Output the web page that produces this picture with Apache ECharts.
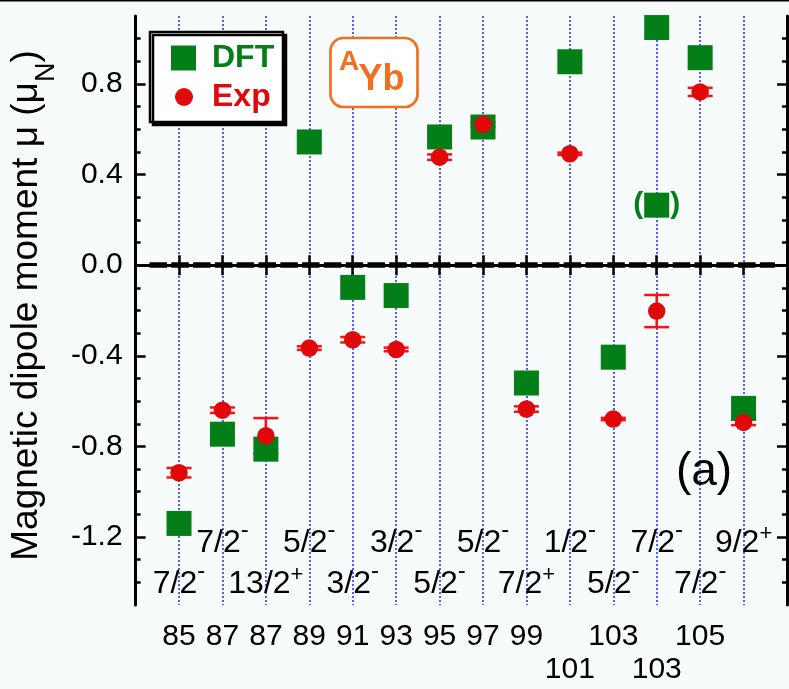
<!DOCTYPE html>
<html><head><meta charset="utf-8">
<script src="https://cdn.jsdelivr.net/npm/echarts@6.0.0/dist/echarts.min.js"></script>
<style>html,body{margin:0;padding:0;background:#f7fbfc}#c{width:789px;height:689px}</style>
</head><body><div id="c"></div>
<script>
// ---- data ----
const positions = [1, 2, 3, 4, 5, 6, 7, 8, 9, 10, 11, 12, 13, 14];
const massNumbers = ['85', '87', '87', '89', '91', '93', '95', '97', '99', '101', '103', '103', '105', '107'];
const massLowerRow = [false, false, false, false, false, false, false, false, false, true, false, true, false, true];
const spins = ['7/2-', '7/2-', '13/2+', '5/2-', '3/2-', '3/2-', '5/2-', '5/2-', '7/2+', '1/2-', '5/2-', '7/2-', '7/2-', '9/2+'];
const dftValues = [-1.14, -0.746, -0.812, 0.544, -0.098, -0.134, 0.566, 0.61, -0.52, 0.898, -0.406, 1.049, 0.916, -0.632];
const dftTentativePos = [12];
const dftTentativeValues = [0.265];
const expValues = [-0.916, -0.64, -0.753, -0.366, -0.329, -0.372, 0.477, 0.622, -0.635, 0.492, -0.679, -0.2025, 0.765, -0.694];
const expErrors = [0.021, 0.012, 0.078, 0.008, 0.012, 0.008, 0.012, 0.01, 0.012, 0.005, 0.005, 0.071, 0.018, 0.012];
const yMajorTicks = [-1.2, -0.8, -0.4, 0, 0.4, 0.8];
const yMinorTicks = [-1.4, -1.3, -1.1, -1.0, -0.9, -0.7, -0.6, -0.5, -0.3, -0.2, -0.1, 0.1, 0.2, 0.3, 0.5, 0.6, 0.7, 0.9, 1.0];

// ---- styling ----
const FONT = 'Liberation Sans, Arial, Helvetica, sans-serif';
const GREEN = '#047f18';
const RED = '#e00808';
const ERR = '#ff1010';
const ORANGE = '#f07020';
const SPIN_UPPER_Y = -1.228, SPIN_LOWER_Y = -1.407;
const ZERO_LINE_X = [0.32, 14.72];

const dftData = positions.map((p, i) => [p, dftValues[i]]);
const dftTentData = dftTentativePos.map((p, i) => [p, dftTentativeValues[i]]);
const expData = positions.map((p, i) => [p, expValues[i]]);
const errData = positions.map((p, i) => [p, expValues[i] - expErrors[i], expValues[i] + expErrors[i]]);
const spinData = positions.map((p, i) => [p, (i % 2 === 0) ? SPIN_LOWER_Y : SPIN_UPPER_Y, spins[i]]);

const axisLineStyle = {color: '#000', width: 3};
const chart = echarts.init(document.getElementById('c'), null, {renderer: 'canvas'});

chart.setOption({
  backgroundColor: '#f7fbfc',
  animation: false,
  textStyle: {fontFamily: FONT},
  grid: {left: 133, right: 2, top: 16, bottom: 84},
  xAxis: [{
    type: 'value', position: 'bottom', min: 0, max: 15, interval: 1,
    axisLine: {show: true, lineStyle: axisLineStyle},
    axisTick: {show: true, inside: true, length: 10, lineStyle: {width: 2.5, color: '#000'}, customValues: positions},
    axisLabel: {
      customValues: positions,
      margin: 15,
      formatter: v => {
        const i = positions.indexOf(v);
        if (i < 0) return '';
        return massLowerRow[i] ? '\n' + massNumbers[i] : massNumbers[i];
      },
      fontSize: 30, lineHeight: 33, color: '#000', fontFamily: FONT
    },
    splitLine: {show: true, lineStyle: {color: '#1a2ee8', width: 1.5, type: [2, 2]}}
  }, {
    type: 'value', position: 'top', min: 0, max: 15, interval: 1,
    axisLine: {show: true, lineStyle: axisLineStyle},
    axisTick: {show: true, inside: true, length: 10, lineStyle: {width: 2.5, color: '#000'}, customValues: positions},
    axisLabel: {show: false},
    splitLine: {show: false}
  }],
  yAxis: [{
    type: 'value', position: 'left', min: -1.5, max: 1.1,
    name: 'Magnetic dipole moment μ (μ{s|N})',
    nameLocation: 'middle', nameGap: 70,
    nameTextStyle: {fontSize: 37, color: '#000', fontFamily: FONT, padding: [0, 0, 0, 10],
      rich: {s: {fontSize: 27, color: '#000', fontFamily: FONT, padding: [40, 0, 0, 0]}}},
    axisLine: {show: true, lineStyle: axisLineStyle},
    axisTick: {show: true, inside: true, length: 10, lineStyle: {width: 2.5, color: '#000'}, customValues: yMajorTicks},
    axisLabel: {customValues: yMajorTicks, formatter: v => v.toFixed(1), fontSize: 30, color: '#000', margin: 13, fontFamily: FONT},
    splitLine: {show: false}
  }, {
    type: 'value', position: 'left', min: -1.5, max: 1.1,
    axisLine: {show: false},
    axisTick: {show: true, inside: true, length: 5, lineStyle: {width: 2.5, color: '#000'}, customValues: yMinorTicks},
    axisLabel: {show: false}, splitLine: {show: false}
  }, {
    type: 'value', position: 'right', min: -1.5, max: 1.1,
    axisLine: {show: true, lineStyle: axisLineStyle},
    axisTick: {show: true, inside: true, length: 10, lineStyle: {width: 2.5, color: '#000'}, customValues: yMajorTicks},
    axisLabel: {show: false}, splitLine: {show: false}
  }, {
    type: 'value', position: 'right', min: -1.5, max: 1.1,
    axisLine: {show: false},
    axisTick: {show: true, inside: true, length: 5, lineStyle: {width: 2.5, color: '#000'}, customValues: yMinorTicks},
    axisLabel: {show: false}, splitLine: {show: false}
  }],
  legend: [{
    data: [{name: 'DFT', icon: 'rect', textStyle: {color: GREEN}}],
    left: 171, top: 42, padding: 0, orient: 'vertical', selectedMode: false,
    itemWidth: 25, itemHeight: 25, z: 10,
    textStyle: {fontSize: 32, fontWeight: 'bold', fontFamily: FONT, padding: [0, 0, 0, 11]}
  }, {
    data: [{name: 'Exp', icon: 'circle', textStyle: {color: RED}}],
    left: 175, top: 81, padding: 0, orient: 'vertical', selectedMode: false,
    itemWidth: 18, itemHeight: 18, z: 10,
    textStyle: {fontSize: 32, fontWeight: 'bold', fontFamily: FONT, padding: [0, 0, 0, 14]}
  }],
  graphic: [
    {type: 'rect', left: 0, top: 0, shape: {width: 789, height: 1.5}, style: {fill: '#000'}, z: 1},
    {type: 'rect', z: 5, shape: {x: 150, y: 32, width: 133, height: 90},
      style: {fill: '#fff', stroke: '#000', lineWidth: 2.5, shadowColor: '#000', shadowOffsetX: 3, shadowOffsetY: 3, shadowBlur: 0}},
    {type: 'rect', z: 5, shape: {x: 330.5, y: 38, width: 87, height: 69, r: 13},
      style: {fill: '#fff', stroke: ORANGE, lineWidth: 2.7}},
    {type: 'text', z: 6, style: {x: 339, y: 62.5, text: 'A', fill: ORANGE, font: 'bold 28px ' + FONT, verticalAlign: 'middle', align: 'left'}},
    {type: 'text', z: 6, style: {x: 358.5, y: 80.5, text: 'Yb', fill: ORANGE, font: 'bold 36px ' + FONT, verticalAlign: 'middle', align: 'left'}},
    {type: 'text', z: 6, style: {x: 704, y: 472, text: '(a)', fill: '#000', font: '46px ' + FONT, verticalAlign: 'middle', align: 'center'}}
  ],
  series: [{
    name: 'Exp error', type: 'custom', z: 2,
    data: errData,
    encode: {x: 0, y: [1, 2]},
    renderItem: (params, api) => {
      const x = api.value(0);
      const pLo = api.coord([x, api.value(1)]);
      const pHi = api.coord([x, api.value(2)]);
      const hw = 12.5;
      const st = {stroke: ERR, lineWidth: 2.5};
      return {type: 'group', children: [
        {type: 'line', shape: {x1: pLo[0], y1: pLo[1], x2: pHi[0], y2: pHi[1]}, style: st},
        {type: 'line', shape: {x1: pLo[0] - hw, y1: pLo[1], x2: pLo[0] + hw, y2: pLo[1]}, style: st},
        {type: 'line', shape: {x1: pHi[0] - hw, y1: pHi[1], x2: pHi[0] + hw, y2: pHi[1]}, style: st}
      ]};
    },
    markLine: {
      silent: true, symbol: 'none', label: {show: false},
      lineStyle: {color: '#000', width: 5.5, type: [17.5, 4.3], opacity: 1},
      emphasis: {disabled: true},
      data: [[{coord: [ZERO_LINE_X[0], 0]}, {coord: [ZERO_LINE_X[1], 0]}]]
    }
  }, {
    name: 'DFT', type: 'scatter', z: 3, symbol: 'rect', symbolSize: 25,
    itemStyle: {color: GREEN, opacity: 1},
    data: dftData
  }, {
    name: 'DFT', type: 'scatter', z: 3, symbol: 'rect', symbolSize: 25,
    itemStyle: {color: GREEN, opacity: 1},
    data: dftTentData,
    label: {show: true, position: 'inside', formatter: '{p|(}{g|}{p|)}',
      rich: {p: {fontSize: 30, fontWeight: 'bold', color: GREEN, fontFamily: FONT}, g: {width: 27}}}
  }, {
    name: 'Exp', type: 'scatter', z: 4, symbol: 'circle', symbolSize: 17.5,
    itemStyle: {color: RED, opacity: 1},
    data: expData
  }, {
    name: 'spin', type: 'scatter', z: 4, symbolSize: 0, silent: true,
    itemStyle: {opacity: 1},
    data: spinData,
    label: {
      show: true, position: 'inside', color: '#000', opacity: 1, textBorderWidth: 0,
      formatter: p => {
        const sgn = p.value[2].slice(-1);
        return '{n|' + p.value[2].slice(0, -1) + '}{' + (sgn === '+' ? 'plus' : 'minus') + '|' + sgn + '}';
      },
      rich: {
        n: {fontSize: 32, color: '#000', fontFamily: FONT, lineHeight: 34, textBorderWidth: 0},
        minus: {fontSize: 24, color: '#000', fontFamily: FONT, lineHeight: 34, verticalAlign: 'bottom', padding: [0, 0, 18, 0], textBorderWidth: 0},
        plus: {fontSize: 22, color: '#000', fontFamily: FONT, lineHeight: 34, verticalAlign: 'bottom', padding: [0, 0, 15, 0], textBorderWidth: 0}
      }
    }
  }]
});
</script></body></html>
